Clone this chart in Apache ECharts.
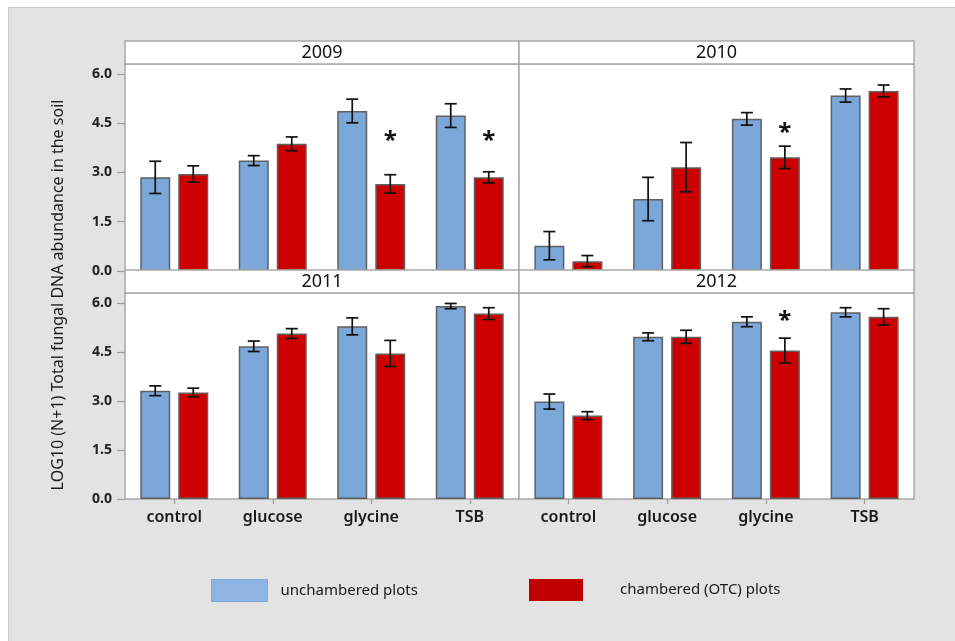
<!DOCTYPE html>
<html>
<head>
<meta charset="utf-8">
<title>Total fungal DNA abundance</title>
<script src="https://cdn.jsdelivr.net/npm/echarts@6/dist/echarts.min.js"></script>
<style>
  html, body { margin: 0; padding: 0; background: #ffffff; }
  #wrap { position: relative; width: 955px; height: 641px; overflow: hidden; }
  #bg { position: absolute; left: 8px; top: 7px; right: 0; bottom: 0; background: #e3e3e3;
        border-left: 1px solid #cdcdcd; border-top: 1px solid #cdcdcd; }
  #chart { position: absolute; left: 0; top: 0; width: 955px; height: 641px; }
</style>
</head>
<body>
<div id="wrap"><div id="bg"></div><div id="chart"></div></div>
<script>
// Treatments on the x axis and sampling years (one panel each)
const categories = ['control', 'glucose', 'glycine', 'TSB'];
const years = ['2009', '2010', '2011', '2012'];
const yTicks = [0, 1.5, 3, 4.5, 6];

// Means and error-bar half widths, LOG10 (N+1)
const unchambered2009 = [2.85, 3.36, 4.87, 4.73];
const unchamberedErr2009 = [0.49, 0.15, 0.36, 0.36];
const chambered2009 = [2.95, 3.87, 2.65, 2.85];
const chamberedErr2009 = [0.25, 0.21, 0.28, 0.17];
const stars2009 = [null, null, 4.14, 4.14];

const unchambered2010 = [0.77, 2.19, 4.63, 5.34];
const unchamberedErr2010 = [0.43, 0.66, 0.19, 0.20];
const chambered2010 = [0.30, 3.16, 3.46, 5.48];
const chamberedErr2010 = [0.17, 0.75, 0.34, 0.18];
const stars2010 = [null, null, 4.39, null];

const unchambered2011 = [3.31, 4.67, 5.28, 5.90];
const unchamberedErr2011 = [0.15, 0.16, 0.26, 0.08];
const chambered2011 = [3.26, 5.06, 4.45, 5.67];
const chamberedErr2011 = [0.13, 0.15, 0.40, 0.18];
const stars2011 = [null, null, null, null];

const unchambered2012 = [2.98, 4.96, 5.42, 5.71];
const unchamberedErr2012 = [0.23, 0.12, 0.15, 0.14];
const chambered2012 = [2.55, 4.96, 4.54, 5.57];
const chamberedErr2012 = [0.12, 0.20, 0.38, 0.25];
const stars2012 = [null, null, 5.62, null];

const panelData = [
  { year: years[0], u: unchambered2009, ue: unchamberedErr2009, c: chambered2009, ce: chamberedErr2009, s: stars2009 },
  { year: years[1], u: unchambered2010, ue: unchamberedErr2010, c: chambered2010, ce: chamberedErr2010, s: stars2010 },
  { year: years[2], u: unchambered2011, ue: unchamberedErr2011, c: chambered2011, ce: chamberedErr2011, s: stars2011 },
  { year: years[3], u: unchambered2012, ue: unchamberedErr2012, c: chambered2012, ce: chamberedErr2012, s: stars2012 }
];

// Panel geometry (2 x 2 trellis), strip height above each panel
const panels = [
  { left: 125, top: 64,  width: 394, height: 207 },
  { left: 519, top: 64,  width: 395, height: 207 },
  { left: 125, top: 293, width: 394, height: 206 },
  { left: 519, top: 293, width: 395, height: 206 }
];
const stripH = 23;

const FONT = '"Noto Sans", "Open Sans", sans-serif';
const BLUE = '#7ba7d9';
const RED = '#cc0000';
const BAR_W = 30;
const BAR_GAP = 8;
const SHIFT = (BAR_W + BAR_GAP) / 2;
const FRAME = '#a9a9a9';

function errorBars(shift) {
  return function (params, api) {
    const i = api.value(0);
    const v = api.value(1);
    const e = api.value(2);
    const hi = api.coord([i, v + e]);
    const lo = api.coord([i, v - e]);
    const x = hi[0] + shift;
    const cap = 6;
    const style = { stroke: '#111111', lineWidth: 1.7 };
    return {
      type: 'group',
      children: [
        { type: 'line', shape: { x1: x, y1: hi[1], x2: x, y2: lo[1] }, style: style },
        { type: 'line', shape: { x1: x - cap, y1: hi[1], x2: x + cap, y2: hi[1] }, style: style },
        { type: 'line', shape: { x1: x - cap, y1: lo[1], x2: x + cap, y2: lo[1] }, style: style }
      ]
    };
  };
}

function starMarks(shift) {
  return function (params, api) {
    const p = api.coord([api.value(0), api.value(1)]);
    return {
      type: 'text',
      style: {
        text: '*', x: p[0] + shift, y: p[1] + 6,
        align: 'center', verticalAlign: 'middle',
        font: 'bold 24px ' + FONT, fill: '#111111'
      }
    };
  };
}

const grid = [], xAxis = [], yAxis = [], series = [], graphic = [];

panels.forEach(function (p, k) {
  const isLeft = (k % 2 === 0);
  const isBottom = (k >= 2);
  const d = panelData[k];

  grid.push({
    left: p.left, top: p.top, width: p.width, height: p.height,
    show: true, backgroundColor: '#ffffff', borderColor: FRAME, borderWidth: 1.5
  });

  xAxis.push({
    type: 'category', gridIndex: k, data: categories,
    axisLine: { show: false },
    axisTick: { show: isBottom, alignWithLabel: true, length: 5, lineStyle: { color: '#9c9c9c', width: 1.2 } },
    axisLabel: { show: isBottom, margin: 10, fontSize: 16, fontWeight: 600, fontFamily: FONT, color: '#1a1a1a' },
    splitLine: { show: false }
  });

  yAxis.push({
    type: 'value', gridIndex: k, min: 0, max: 6.3, interval: 1.5,
    axisLine: { show: false },
    axisTick: { show: isLeft, length: 8, customValues: yTicks, lineStyle: { color: '#9c9c9c', width: 1.2 } },
    axisLabel: {
      show: isLeft, customValues: yTicks, margin: 13, fontSize: 14, fontWeight: 'bold',
      fontFamily: FONT, color: '#222222',
      formatter: function (v) { return v.toFixed(1); }
    },
    splitLine: { show: false }
  });

  series.push({
    name: 'unchambered plots', type: 'bar', xAxisIndex: k, yAxisIndex: k,
    data: d.u, barWidth: BAR_W, barGap: (BAR_GAP / BAR_W * 100) + '%',
    itemStyle: { color: BLUE, borderColor: '#606060', borderWidth: 1.5 },
    emphasis: { disabled: true }, z: 2
  });
  series.push({
    name: 'chambered (OTC) plots', type: 'bar', xAxisIndex: k, yAxisIndex: k,
    data: d.c, barWidth: BAR_W, barGap: (BAR_GAP / BAR_W * 100) + '%',
    itemStyle: { color: RED, borderColor: '#606060', borderWidth: 1.5 },
    emphasis: { disabled: true }, z: 2
  });
  series.push({
    type: 'custom', xAxisIndex: k, yAxisIndex: k, z: 4, silent: true,
    renderItem: errorBars(-SHIFT),
    encode: { x: 0, y: 1 },
    data: d.u.map(function (v, i) { return [i, v, d.ue[i]]; })
  });
  series.push({
    type: 'custom', xAxisIndex: k, yAxisIndex: k, z: 4, silent: true,
    renderItem: errorBars(SHIFT),
    encode: { x: 0, y: 1 },
    data: d.c.map(function (v, i) { return [i, v, d.ce[i]]; })
  });
  const starData = [];
  d.s.forEach(function (v, i) { if (v !== null) starData.push([i, v]); });
  series.push({
    type: 'custom', xAxisIndex: k, yAxisIndex: k, z: 4, silent: true,
    renderItem: starMarks(SHIFT),
    encode: { x: 0, y: 1 },
    data: starData
  });

  // Year strip above the panel
  graphic.push({
    type: 'rect', silent: true, z: 10,
    shape: { x: p.left, y: p.top - stripH, width: p.width, height: stripH },
    style: { fill: '#ffffff', stroke: FRAME, lineWidth: 1.5 }
  });
  graphic.push({
    type: 'text', silent: true, z: 11,
    style: {
      text: d.year, x: p.left + p.width / 2, y: p.top - stripH / 2,
      align: 'center', verticalAlign: 'middle',
      font: '18px ' + FONT, fill: '#111111'
    }
  });
});

// Shared y-axis title
graphic.push({
  type: 'text', silent: true, z: 11,
  x: 58, y: 295, rotation: Math.PI / 2,
  style: {
    text: 'LOG10 (N+1) Total fungal DNA abundance in the soil',
    align: 'center', verticalAlign: 'middle',
    font: '16px ' + FONT, fill: '#1a1a1a'
  }
});

const option = {
  animation: false,
  backgroundColor: 'transparent',
  grid: grid,
  xAxis: xAxis,
  yAxis: yAxis,
  series: series,
  graphic: graphic,
  legend: [
    {
      left: 211, top: 579, padding: 0, itemWidth: 56, itemHeight: 22, icon: 'rect',
      selectedMode: false,
      data: [{ name: 'unchambered plots', itemStyle: { color: '#8db4e2', borderColor: '#7ea7da', borderWidth: 1 } }],
      textStyle: { fontSize: 15, fontFamily: FONT, color: '#1a1a1a', padding: [0, 0, 0, 8] }
    },
    {
      left: 529, top: 579, padding: 0, itemWidth: 54, itemHeight: 22, icon: 'rect',
      selectedMode: false,
      data: [{ name: 'chambered (OTC) plots', itemStyle: { color: '#c00000', borderWidth: 0 } }],
      textStyle: { fontSize: 15, fontFamily: FONT, color: '#1a1a1a', padding: [0, 0, 0, 32] }
    }
  ]
};

const chart = echarts.init(document.getElementById('chart'), null, { renderer: 'canvas' });
chart.setOption(option);
</script>
</body>
</html>
